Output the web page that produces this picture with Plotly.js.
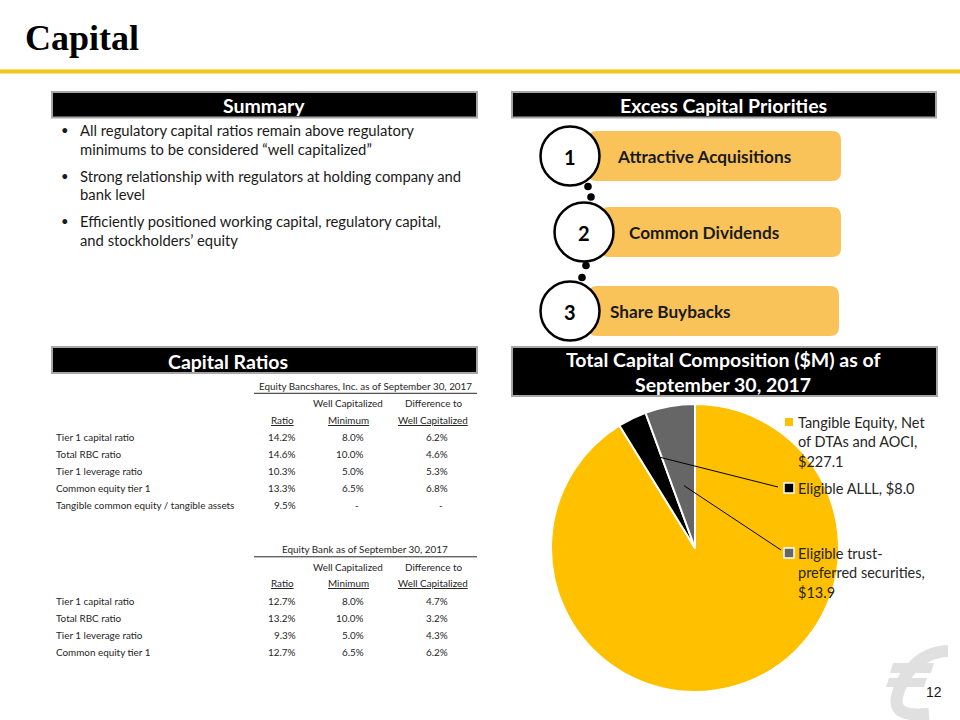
<!DOCTYPE html>
<html>
<head>
<meta charset="utf-8">
<script src="https://cdn.plot.ly/plotly-3.0.1.min.js"></script>
<style>html,body{margin:0;padding:0;background:#fff;}#chart{width:960px;height:720px;}</style>
</head>
<body>
<div id="chart"></div>
<script>
// ---------- DATA ----------
const pieLabels = ['Tangible Equity, Net of DTAs and AOCI', 'Eligible ALLL', 'Eligible trust-preferred securities'];
const pieValues = [227.1, 8.0, 13.9];
const pieColors = ['#FFC000', '#000000', '#666666'];
const legendLines = [['Tangible Equity, Net', 'of DTAs and AOCI,', '$227.1'], ['Eligible ALLL, $8.0'], ['Eligible trust-', 'preferred securities,', '$13.9']];

const summaryBullets = [
  ['All regulatory capital ratios remain above regulatory', 'minimums to be considered \u201cwell capitalized\u201d'],
  ['Strong relationship with regulators at holding company and', 'bank level'],
  ['Efficiently positioned working capital, regulatory capital,', 'and stockholders\u2019 equity']
];
const priorities = ['Attractive Acquisitions', 'Common Dividends', 'Share Buybacks'];

const colHeadTop = ['', 'Well Capitalized', 'Difference to'];
const colHeadBottom = ['Ratio', 'Minimum', 'Well Capitalized'];

const table1Title = 'Equity Bancshares, Inc. as of September 30, 2017';
const table1Labels = ['Tier 1 capital ratio', 'Total RBC ratio', 'Tier 1 leverage ratio', 'Common equity tier 1', 'Tangible common equity / tangible assets'];
const table1Ratio = [14.2, 14.6, 10.3, 13.3, 9.5];
const table1Min = [8.0, 10.0, 5.0, 6.5, null];
const table1Diff = [6.2, 4.6, 5.3, 6.8, null];

const table2Title = 'Equity Bank as of September 30, 2017';
const table2Labels = ['Tier 1 capital ratio', 'Total RBC ratio', 'Tier 1 leverage ratio', 'Common equity tier 1'];
const table2Ratio = [12.7, 13.2, 9.3, 12.7];
const table2Min = [8.0, 10.0, 5.0, 6.5];
const table2Diff = [4.7, 3.2, 4.3, 6.2];

// ---------- STYLE / LAYOUT HELPERS ----------
const SANS = 'Lato, "Noto Sans", sans-serif';
const shapes = [];
const ann = [];
function txt(x, y, text, size, opts) {
  opts = opts || {};
  ann.push({x: x, y: y, xref: 'x', yref: 'y', text: text, showarrow: false,
    xanchor: opts.xa || 'left', yanchor: opts.ya || 'middle', borderpad: 0,
    font: {family: opts.family || SANS, size: size, color: opts.color || '#262626', weight: opts.weight || 'normal'}});
}
function rect(x0, y0, x1, y1, fill, line, lw) {
  shapes.push({type: 'rect', xref: 'x', yref: 'y', x0: x0, y0: y0, x1: x1, y1: y1,
    fillcolor: fill, line: {color: line || fill, width: lw === undefined ? 0 : lw}});
}
function line(x0, y0, x1, y1, color, w) {
  shapes.push({type: 'line', xref: 'x', yref: 'y', x0: x0, y0: y0, x1: x1, y1: y1, line: {color: color, width: w}});
}
function rrect(x0, y0, x1, y1, r, fill) {
  const p = `M${x0 + r},${y0} L${x1 - r},${y0} Q${x1},${y0} ${x1},${y0 + r} L${x1},${y1 - r} Q${x1},${y1} ${x1 - r},${y1} L${x0 + r},${y1} Q${x0},${y1} ${x0},${y1 - r} L${x0},${y0 + r} Q${x0},${y0} ${x0 + r},${y0} Z`;
  shapes.push({type: 'path', xref: 'x', yref: 'y', path: p, fillcolor: fill, line: {width: 0}});
}
function circle(cx, cy, r, fill, lineColor, lw) {
  shapes.push({type: 'circle', xref: 'x', yref: 'y', x0: cx - r, y0: cy - r, x1: cx + r, y1: cy + r,
    fillcolor: fill, line: {color: lineColor || fill, width: lw || 0}});
}
function header(x0, y0, x1, y1, lines, cx, size) {
  rect(x0, y0, x1, y1, '#000000', '#A6A6A6', 2);
  const h = (y1 - y0) / lines.length;
  lines.forEach((t, i) => { if (t) txt(cx, y0 + h * (i + 0.5) + 0.5, t, size, {xa: 'center', color: '#ffffff', weight: 'bold'}); });
}

// ---------- TITLE ----------
txt(24, 38, 'Capital', 36, {family: '"Liberation Serif", "DejaVu Serif", serif', color: '#000000', weight: 'bold'});
rect(0, 69.5, 960, 73.5, '#F3C419');

// ---------- SUMMARY ----------
header(52, 92, 477, 117.5, ['Summary'], 264, 19.5);
summaryBullets.forEach((b, i) => {
  const y0 = 130 + i * 45.5;
  txt(60, y0, '\u2022', 13, {color: '#1a1a1a'});
  b.forEach((l, j) => txt(79, y0 + j * 18.5, l, 14.8, {color: '#1a1a1a'}));
});

// ---------- EXCESS CAPITAL PRIORITIES ----------
header(512, 92, 936, 117.5, ['Excess Capital Priorities'], 723, 19.5);
const boxY = [131, 207, 286];
const boxX0 = [588, 600, 588];
const circX = [570, 584, 570];
const textX = [616, 628, 609];
priorities.forEach((p, i) => {
  rrect(boxX0[i], boxY[i], 841 - (i === 2 ? 2 : 0), boxY[i] + 50, 9, '#FAC35A');
});
// connector dots
[[588, 186.5], [591, 197], [586, 265.5], [582, 277.5]].forEach(d => circle(d[0], d[1], 3.8, '#000000'));
priorities.forEach((p, i) => {
  const cy = boxY[i] + 25;
  circle(circX[i], cy, 29.5, '#ffffff', '#000000', 2.5);
  txt(circX[i], cy + 1, String(i + 1), 20, {xa: 'center', color: '#000000', weight: 'bold'});
  txt(textX[i], cy, p, 17.2, {color: '#1a1a1a', weight: 'bold'});
});

// ---------- CAPITAL RATIOS TABLES ----------
header(52, 347, 477, 373, [''], 264, 19.5);
txt(228, 361, 'Capital Ratios', 19.5, {xa: 'center', color: '#ffffff', weight: 'bold'});

const TF = 9.9;
function fmt(v) { return v === null ? '-' : v.toFixed(1) + '%'; }
function drawTable(title, titleY, labels, cols) {
  txt(365, titleY, title, TF, {xa: 'center'});
  line(254, titleY + 7.8, 477, titleY + 7.8, '#262626', 1);
  const hc = [282, 348, 433];
  colHeadTop.forEach((t, i) => { if (t) txt(hc[i], titleY + 17.5, t, TF, {xa: 'center'}); });
  colHeadBottom.forEach((t, i) => txt(hc[i], titleY + 34, '<u>' + t + '</u>', TF, {xa: 'center'}));
  const rx = [297, 365, 449];
  labels.forEach((l, r) => {
    const y = titleY + 51.5 + r * 17;
    txt(55, y, l, TF);
    cols.forEach((c, k) => {
      const v = c[r];
      if (v === null) txt(rx[k] - 8, y, '-', TF, {xa: 'center'});
      else txt(rx[k], y, fmt(v), TF, {xa: 'right'});
    });
  });
}
drawTable(table1Title, 385.5, table1Labels, [table1Ratio, table1Min, table1Diff]);
drawTable(table2Title, 549, table2Labels, [table2Ratio, table2Min, table2Diff]);

// ---------- PIE SECTION ----------
header(512, 347, 937, 396, ['Total Capital Composition ($M) as of', 'September 30, 2017'], 723, 19.5);

const pieCx = 695, pieCy = 548, pieR = 144;
const total = pieValues.reduce((a, b) => a + b, 0);
let cum = 0;
const midAngles = pieValues.map(v => { const a = (cum + v / 2) / total * 2 * Math.PI; cum += v; return a; });

// legend
const legY = [422, 488, 553];
const legMarkerX = 789;
legendLines.forEach((ls, i) => {
  if (i === 0) rect(legMarkerX - 4, legY[i] - 4, legMarkerX + 4, legY[i] + 4, pieColors[i]);
  else rect(legMarkerX - 5, legY[i] - 5, legMarkerX + 5, legY[i] + 5, pieColors[i], '#ffffff', 1.5);
  ls.forEach((l, j) => txt(797, legY[i] + j * 19.8, l, 14.5, {color: '#262626'}));
});
// leader lines from slices to legend markers
const leaderFrac = [null, 0.72, 0.44];
[1, 2].forEach(i => {
  const a = midAngles[i];
  const sx = pieCx + pieR * leaderFrac[i] * Math.sin(a);
  const sy = pieCy - pieR * leaderFrac[i] * Math.cos(a);
  line(sx, sy, legMarkerX - 11 + (i === 2 ? 3 : 0), legY[i] - (i === 2 ? 3 : 1), '#000000', 1);
});

// ---------- LOGO + PAGE NUMBER ----------
shapes.push({type: 'path', xref: 'x', yref: 'y', line: {color: '#E0E0E0', width: 12}, layer: 'below',
  path: 'M948,651 C916,652 901,679 897,697 C894,712 905,716 929,714'});
shapes.push({type: 'path', xref: 'x', yref: 'y', fillcolor: '#E0E0E0', line: {width: 0}, layer: 'below',
  path: 'M893,663 L934,663 L931,673 L890,673 Z M889,678 L927,678 L924,687 L886,687 Z'});
txt(943, 692, '12', 14, {xa: 'right', family: '"Liberation Sans", Arial, sans-serif', color: '#1a1a1a'});

const data = [
  {type: 'scatter', x: [], y: [], hoverinfo: 'skip', showlegend: false},
  {type: 'pie', labels: pieLabels, values: pieValues, sort: false, direction: 'clockwise', rotation: 0,
   marker: {colors: pieColors, line: {color: '#ffffff', width: 2}}, textinfo: 'none', showlegend: false,
   domain: {x: [(pieCx - pieR) / 960, (pieCx + pieR) / 960], y: [1 - (pieCy + pieR) / 720, 1 - (pieCy - pieR) / 720]}}
];
const layout = {
  width: 960, height: 720, margin: {l: 0, r: 0, t: 0, b: 0},
  paper_bgcolor: '#ffffff', plot_bgcolor: 'rgba(0,0,0,0)', showlegend: false,
  xaxis: {range: [0, 960], visible: false, fixedrange: true},
  yaxis: {range: [720, 0], visible: false, fixedrange: true},
  shapes: shapes, annotations: ann
};
Plotly.newPlot('chart', data, layout, {staticPlot: true});
</script>
</body>
</html>
